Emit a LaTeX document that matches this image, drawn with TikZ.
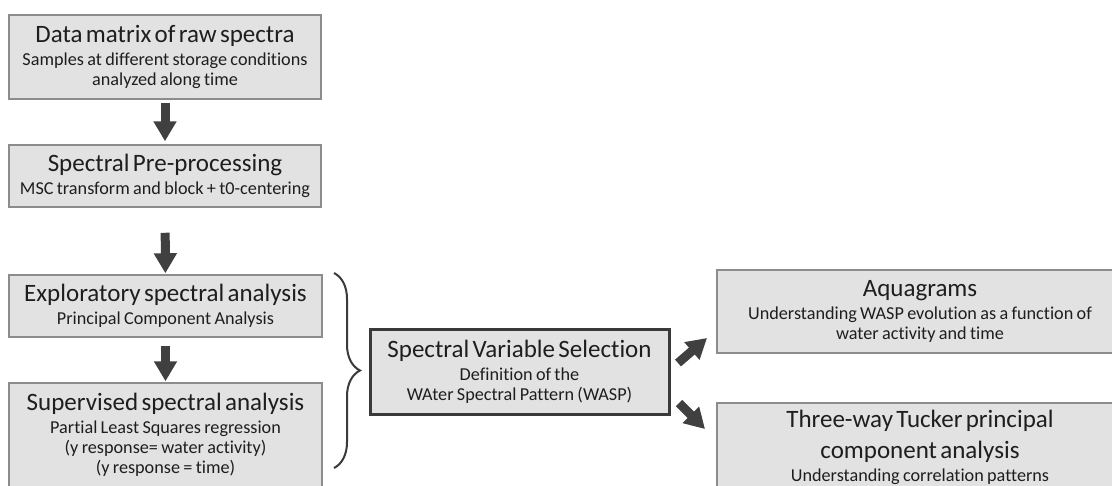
\documentclass[tikz,border=0pt]{standalone}
\usepackage{fontspec}
\setmainfont{Carlito}[Ligatures=NoCommon]
\usetikzlibrary{positioning, arrows.meta, decorations.pathreplacing}

\definecolor{boxfill}{HTML}{E2E2E2}
\definecolor{boxline}{HTML}{8C8C8C}
\definecolor{darkline}{HTML}{3A3A3A}
\definecolor{arrowgray}{HTML}{404040}
\definecolor{textgray}{HTML}{1E1E1E}

\newcommand{\headfont}{\fontsize{25}{31}\selectfont}
\newcommand{\subfont}{\fontsize{18.2}{20}\selectfont}
\newcommand{\boxtext}[2]{{\headfont #1\par}\vspace{3pt}{\subfont #2\par}}

\begin{document}
\begin{tikzpicture}[
                x=1pt, y=-1pt,
                stepbox/.style={rectangle, draw=boxline, line width=1.5pt, fill=boxfill, text=textgray, inner sep=4pt, align=center},
                keybox/.style={stepbox, draw=darkline, line width=3pt},
                blockarrow/.style={-{Triangle[width=22pt, length=20pt]}, line width=9pt, draw=arrowgray},
                bracket/.style={decorate, decoration={brace, amplitude=26pt}, line width=2pt, draw=darkline}
            ]
                \useasboundingbox (0,0) rectangle (1112,485);
                \clip (0,0) rectangle (1112,485);

                % left column
                \node[stepbox, minimum width=312pt, minimum height=84pt, text width=304pt] (raw) at (165,57)
                    {\boxtext{Data matrix of raw spectra}{Samples at different storage conditions\\ analyzed along time}};
                \node[stepbox, minimum width=312pt, minimum height=62pt, text width=304pt] (prep) at (165,176)
                    {\boxtext{Spectral Pre-processing}{MSC transform and block + t0-centering}};
                \node[stepbox, minimum width=313pt, minimum height=62pt, text width=305pt] (explore) at (165.5,306)
                    {\boxtext{Exploratory spectral analysis}{Principal Component Analysis}};
                \node[stepbox, minimum width=313pt, minimum height=104pt, text width=305pt] (superv) at (165.5,435)
                    {\boxtext{Supervised spectral analysis}{Partial Least Squares regression\\ (y response= water activity)\\ (y response = time)}};

                % variable selection
                \node[keybox, minimum width=299pt, minimum height=85pt, text width=291pt] (wasp) at (519.5,371.5)
                    {\boxtext{Spectral Variable Selection}{Definition of the\\ WAter Spectral Pattern (WASP)}};

                % right column
                \node[stepbox, minimum width=406pt, minimum height=83pt, text width=398pt] (aqua) at (920,311.5)
                    {\boxtext{Aquagrams}{Understanding WASP evolution as a function of\\ water activity and time}};
                \node[stepbox, minimum width=406pt, minimum height=88pt, text width=398pt] (tucker) at (920,447)
                    {\boxtext{Three-way Tucker principal\\ component analysis}{Understanding correlation patterns}};

                % arrows down the left column
                \foreach \a/\b/\s/\e in {raw/prep/3/3, prep/explore/25/1, explore/superv/8/1} {
                    \draw[blockarrow, shorten <=\s pt, shorten >=\e pt] (\a) -- (\b);
                }

                % brace round the two analyses
                \coordinate (bracetop) at (334,273);
                \coordinate (bracebot) at (334,468);
                \draw[bracket] (bracetop) -- (bracebot);

                % arrows out of the selection
                \coordinate (upfrom) at (678,363);
                \coordinate (upto) at (707,338);
                \coordinate (downfrom) at (679,403);
                \coordinate (downto) at (705,429);
                \draw[blockarrow] (upfrom) -- (upto);
                \draw[blockarrow] (downfrom) -- (downto);

            \end{tikzpicture}
\end{document}
